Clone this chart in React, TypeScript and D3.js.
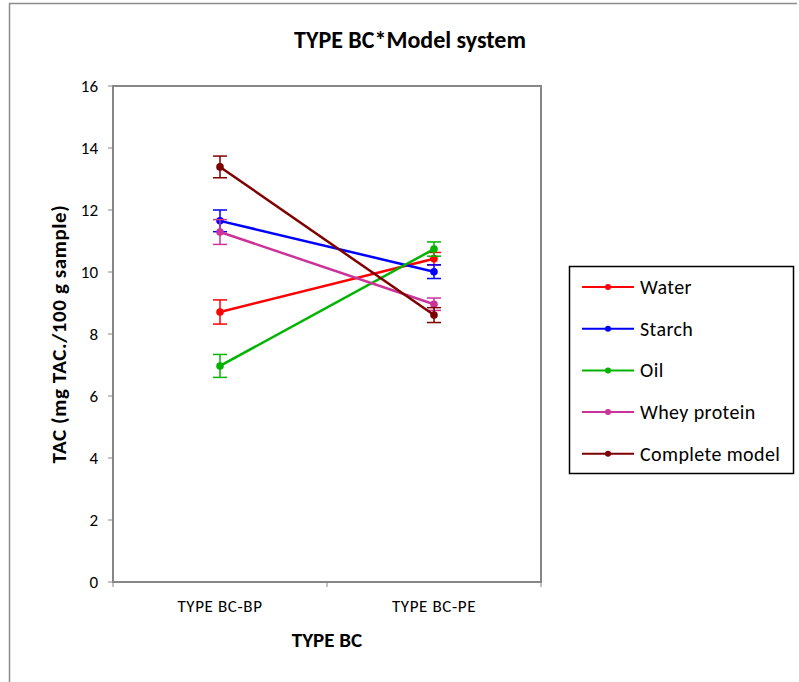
import React from "react";
import * as d3 from "d3";

// categories and series
const categories = ["TYPE BC-BP", "TYPE BC-PE"];
const seriesNames = ["Water", "Starch", "Oil", "Whey protein", "Complete model"];
const seriesColors = ["#ff0000", "#0000ff", "#00b400", "#cc3399", "#7f0000"];

const waterValues = [8.71, 10.43];
const starchValues = [11.65, 10.01];
const oilValues = [6.97, 10.74];
const wheyValues = [11.29, 8.96];
const completeValues = [13.39, 8.61];

const waterErr = [0.39, 0.2];
const starchErr = [0.35, 0.22];
const oilErr = [0.37, 0.23];
const wheyErr = [0.4, 0.2];
const completeErr = [0.35, 0.24];

const yTicks = [0, 2, 4, 6, 8, 10, 12, 14, 16];

const allValues = [waterValues, starchValues, oilValues, wheyValues, completeValues];
const allErrors = [waterErr, starchErr, oilErr, wheyErr, completeErr];

const font = "Calibri, Carlito, 'Open Sans', sans-serif";

export default function App() {
  const width = 799;
  const height = 682;
  const left = 113, right = 541, top = 86, bottom = 582;

  // band scale for category slots, points sit in the middle
  const x = d3.scaleBand().domain(categories).range([left, right]);
  const cx = (c: string) => (x(c) as number) + x.bandwidth() / 2;
  const y = d3.scaleLinear().domain([0, 16]).range([bottom, top]);

  const line = d3.line<number>()
    .x((_, i) => cx(categories[i]))
    .y((d) => y(d));

  const axisColor = "#868686";

  return (
    <svg width={width} height={height} style={{ position: "absolute", left: 0, top: 0 }}>
      <rect x={0} y={0} width={width} height={height} fill="#fff" />
      {/* outer chart border: only top and left edges visible */}
      <path d={`M9.5,${height} V3.5 H797`} fill="none" stroke="#8c8c8c" strokeWidth={1.5} />

      {/* title */}
      <text x={410} y={48} textAnchor="middle" fontFamily={font} fontWeight="bold" fontSize={24}>
        TYPE BC*Model system
      </text>

      {/* plot frame */}
      <rect x={left} y={top} width={right - left} height={bottom - top} fill="none" stroke={axisColor} strokeWidth={2} />

      {/* y axis ticks */}
      {yTicks.map((t) => (
        <g key={t}>
          <line x1={left - 5} x2={left} y1={y(t)} y2={y(t)} stroke={axisColor} strokeWidth={1} />
          <text x={left - 15} y={y(t)} dy="0.35em" textAnchor="end" fontFamily={font} fontSize={17}>
            {t}
          </text>
        </g>
      ))}

      {/* x axis ticks at category boundaries */}
      {[left, ...categories.map((c) => (x(c) as number) + x.bandwidth())].map((v, i) => (
        <line key={i} x1={v} x2={v} y1={bottom} y2={bottom + 5} stroke={axisColor} strokeWidth={1} />
      ))}
      {categories.map((c) => (
        <text key={c} x={cx(c)} y={612} textAnchor="middle" fontFamily={font} fontSize={17} letterSpacing={0.6}>
          {c}
        </text>
      ))}

      {/* axis titles */}
      <text x={327} y={647} textAnchor="middle" fontFamily={font} fontWeight="bold" fontSize={21}>
        TYPE BC
      </text>
      <text
        transform={`translate(66, ${(top + bottom) / 2}) rotate(-90)`}
        textAnchor="middle"
        fontFamily={font}
        fontWeight="bold"
        fontSize={21}
        letterSpacing={0.6}
      >
        TAC (mg TAC./100 g sample)
      </text>

      {/* series */}
      {allValues.map((vals, s) => (
        <g key={seriesNames[s]}>
          <path d={line(vals) as string} fill="none" stroke={seriesColors[s]} strokeWidth={2.5} />
          {vals.map((v, i) => {
            const px = cx(categories[i]);
            const e = allErrors[s][i];
            return (
              <g key={i} stroke={seriesColors[s]} strokeWidth={1.5}>
                <line x1={px} x2={px} y1={y(v + e)} y2={y(v - e)} />
                <line x1={px - 7} x2={px + 7} y1={y(v + e)} y2={y(v + e)} />
                <line x1={px - 7} x2={px + 7} y1={y(v - e)} y2={y(v - e)} />
                <circle cx={px} cy={y(v)} r={3.8} fill={seriesColors[s]} stroke="none" />
              </g>
            );
          })}
        </g>
      ))}

      {/* legend */}
      <rect x={569.5} y={266.5} width={224} height={207} fill="#fff" stroke="#000" strokeWidth={1.5} />
      {seriesNames.map((n, i) => {
        const ly = 287 + i * 41.7;
        return (
          <g key={n}>
            <line x1={582} x2={634} y1={ly} y2={ly} stroke={seriesColors[i]} strokeWidth={2} />
            <circle cx={608} cy={ly} r={3} fill={seriesColors[i]} />
            <text x={640} y={ly} dy="0.35em" fontFamily={font} fontSize={20} letterSpacing={0.4}>
              {n}
            </text>
          </g>
        );
      })}
    </svg>
  );
}
